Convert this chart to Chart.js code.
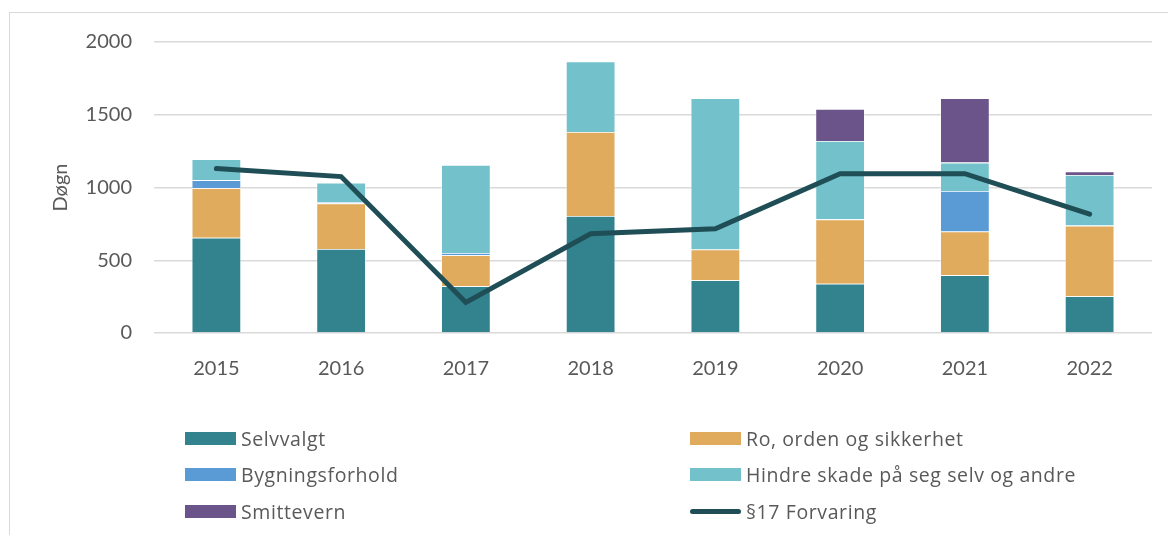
<!DOCTYPE html>
<html lang="no">
<head>
<meta charset="UTF-8">
<title>Døgn per år</title>
<style>
  html, body { margin: 0; padding: 0; background: #fff; }
  #wrap { position: relative; width: 1168px; height: 535px; overflow: hidden; font-family: Lato, "Open Sans", sans-serif; }
  #frame { position: absolute; left: 9px; top: 12px; width: 1200px; height: 600px; border-top: 1px solid #d9d9d9; border-left: 1px solid #d9d9d9; }
  #box { position: absolute; left: 0; top: 0; width: 1168px; height: 535px; }
  #legend { position: absolute; left: 185px; top: 420px; display: grid; grid-template-columns: 505px 460px; grid-auto-rows: 36.5px; }
  .item { display: flex; align-items: center; font-family: "Open Sans", sans-serif; font-size: 19.5px; letter-spacing: 0.6px; color: #595959; white-space: nowrap; }
  .swatch { width: 51px; height: 13px; margin-right: 5px; flex: none; }
  .lineSwatch { width: 51px; height: 5px; border-radius: 3px; margin-right: 5px; flex: none; }
</style>
</head>
<body>
<div id="wrap">
  <div id="frame"></div>
  <div id="box"><canvas id="myChart"></canvas></div>
  <div id="legend"></div>
</div>
<script src="https://cdn.jsdelivr.net/npm/chart.js@4.4.1/dist/chart.umd.min.js"></script>
<script>
var aar = ["2015", "2016", "2017", "2018", "2019", "2020", "2021", "2022"];
var selvvalgt = [655, 577, 322, 804, 363, 338, 398, 253];
var roOrden = [341, 314, 213, 578, 211, 443, 300, 485];
var bygningsforhold = [55, 9, 15, 0, 0, 0, 278, 0];
var hindreSkade = [143, 133, 605, 484, 1039, 539, 195, 348];
var smittevern = [0, 0, 0, 0, 0, 220, 442, 25];
var forvaring = [1130, 1075, 210, 682, 717, 1095, 1095, 817];
var yTicks = [0, 500, 1000, 1500, 2000];

var tekst = "#595959";
var fontFam = "Lato, 'Open Sans', sans-serif";

function stolpe(label, data, farge) {
    return {
        type: "bar",
        label: label,
        data: data,
        backgroundColor: farge,
        borderColor: "rgba(255,255,255,0.55)",
        borderWidth: 0.8,
        categoryPercentage: 1,
        barPercentage: 0.396,
        stack: "s",
        order: 1
    };
}

var ctx = document.getElementById("myChart").getContext("2d");
var myChart = new Chart(ctx, {
    data: {
        labels: aar,
        datasets: [
            stolpe("Selvvalgt", selvvalgt, "#33838f"),
            stolpe("Ro, orden og sikkerhet", roOrden, "#e1ab5e"),
            stolpe("Bygningsforhold", bygningsforhold, "#5a9bd5"),
            stolpe("Hindre skade på seg selv og andre", hindreSkade, "#73c1cb"),
            stolpe("Smittevern", smittevern, "#6a5489"),
            {
                type: "line",
                label: "§17 Forvaring",
                data: forvaring,
                borderColor: "#1f4e56",
                backgroundColor: "#1f4e56",
                borderWidth: 5,
                borderCapStyle: "round",
                pointRadius: 0,
                tension: 0,
                stack: "linje",
                order: 0
            }
        ]
    },
    options: {
        responsive: true,
        maintainAspectRatio: false,
        animation: false,
        layout: { padding: { left: 0, top: 42, right: 16, bottom: 142 } },
        plugins: { legend: { display: false }, tooltip: { enabled: false } },
        scales: {
            x: {
                stacked: true,
                grid: { display: false },
                border: { display: false },
                ticks: { color: tekst, font: { family: fontFam, size: 20 }, padding: 16 },
                afterFit: function (s) { s.height = 60; }
            },
            y: {
                stacked: true,
                min: 0,
                max: 2000,
                afterBuildTicks: function (s) { s.ticks = yTicks.map(function (v) { return { value: v }; }); },
                grid: { color: "#d9d9d9", lineWidth: 1.4, drawTicks: false },
                border: { display: false },
                ticks: {
                    color: tekst, font: { family: fontFam, size: 20 }, padding: 22,
                    callback: function (v) { return String(v); }
                },
                title: { display: true, text: "Døgn", color: tekst, font: { family: fontFam, size: 20 }, padding: { top: 49, bottom: 0 } },
                afterFit: function (s) { s.width = 154; }
            }
        }
    }
});

// legend built from the chart datasets
var legend = document.getElementById("legend");
myChart.data.datasets.forEach(function (ds) {
    var item = document.createElement("div");
    item.className = "item";
    var sw = document.createElement("span");
    sw.className = ds.type === "line" ? "lineSwatch" : "swatch";
    sw.style.background = ds.type === "line" ? ds.borderColor : ds.backgroundColor;
    var t = document.createElement("span");
    t.textContent = ds.label;
    item.appendChild(sw);
    item.appendChild(t);
    legend.appendChild(item);
});
</script>
</body>
</html>
